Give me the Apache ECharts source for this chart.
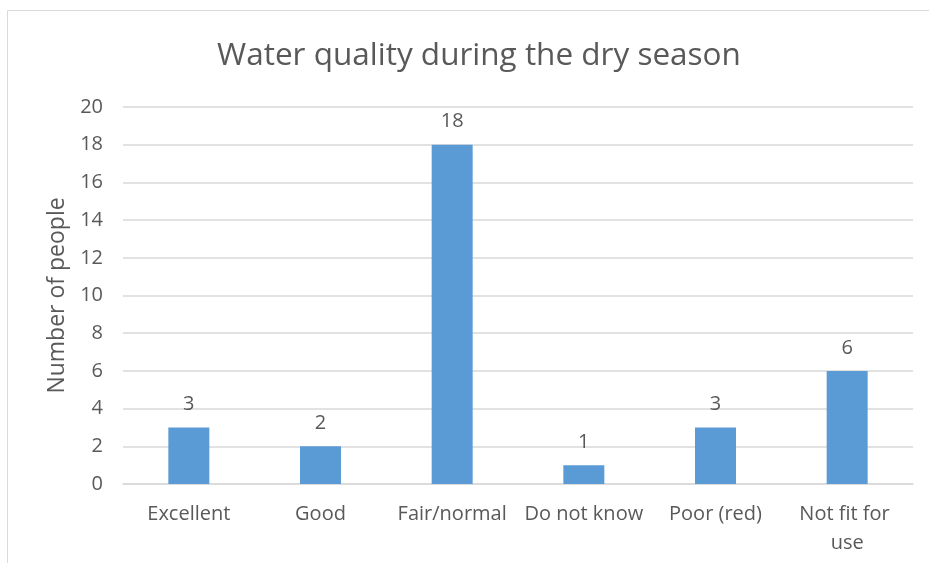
<!DOCTYPE html>
<html>
<head>
<meta charset="utf-8">
<script src="https://cdn.jsdelivr.net/npm/echarts@6/dist/echarts.min.js"></script>
<style>
  html, body { margin: 0; padding: 0; background: #fff; }
  #chart { width: 929px; height: 563px; }
</style>
</head>
<body>
<div id="chart"></div>
<script>
const categories = ['Excellent', 'Good', 'Fair/normal', 'Do not know', 'Poor (red)', 'Not fit for use'];
const people = [3, 2, 18, 1, 3, 6];
const yTicks = [0, 20, 2]; // min, max, step

const chart = echarts.init(document.getElementById('chart'));
const font = '"Open Sans", sans-serif';

chart.setOption({
  textStyle: { fontFamily: font },
  graphic: [{
    type: 'rect',
    shape: { x: 7.5, y: 10.5, width: 1000, height: 1000 },
    style: { fill: 'none', stroke: '#d9d9d9', lineWidth: 1 },
    silent: true
  }],
  title: {
    text: 'Water quality during the dry season',
    left: 474,
    top: 35,
    textAlign: 'center',
    textStyle: { fontFamily: font, fontSize: 31.5, fontWeight: 'normal', color: '#595959' }
  },
  grid: { left: 123, right: 16, top: 107, bottom: 79, containLabel: false },
  xAxis: {
    type: 'category',
    data: categories,
    axisLine: { lineStyle: { color: '#d9d9d9', width: 1.5 } },
    axisTick: { show: false },
    axisLabel: {
      color: '#595959', fontSize: 20, margin: 16, interval: 0,
      width: 124, overflow: 'break', lineHeight: 29
    }
  },
  yAxis: {
    type: 'value',
    min: yTicks[0], max: yTicks[1], interval: yTicks[2],
    name: 'Number of people',
    nameLocation: 'middle',
    nameGap: 52,
    nameTextStyle: { color: '#595959', fontSize: 23, fontFamily: font },
    axisLine: { show: false },
    axisTick: { show: false },
    axisLabel: { color: '#595959', fontSize: 20, margin: 20 },
    splitLine: { lineStyle: { color: '#d9d9d9', width: 1.5 } }
  },
  series: [{
    type: 'bar',
    data: people,
    barWidth: 41,
    itemStyle: { color: '#5b9bd5' },
    label: { show: true, position: 'top', distance: 13, color: '#595959', fontSize: 20 }
  }]
});
</script>
</body>
</html>
